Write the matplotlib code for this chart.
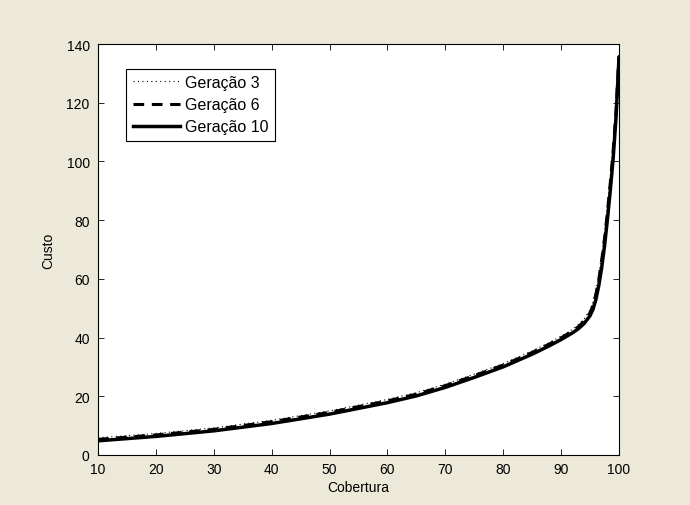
import matplotlib
matplotlib.use("Agg")
import matplotlib.pyplot as plt

# coverage values (x) and cost for each generation
cobertura = [10, 20, 30, 40, 50, 60, 65, 70, 75, 80, 85, 88, 90, 92, 93, 94, 95, 95.5, 96, 96.5, 97, 97.5, 98, 98.5, 99, 99.5, 100]
custo_g10 = [4.8, 6.3, 8.2, 10.7, 13.9, 17.8, 20.1, 23.0, 26.4, 30.0, 34.3, 37.2, 39.3, 41.6, 43.0, 44.8, 47.4, 49.5, 52.8, 57.5, 63.5, 71.0, 80.0, 90.0, 101.0, 115.0, 135.0]
custo_g6 = [5.3, 6.8, 8.7, 11.3, 14.5, 18.4, 20.7, 23.6, 27.0, 30.6, 34.9, 37.8, 39.9, 42.2, 43.7, 45.6, 48.4, 50.8, 54.5, 59.5, 66.0, 73.5, 82.5, 92.5, 103.5, 117.0, 136.0]
custo_g3 = [5.8, 7.3, 9.2, 11.8, 15.0, 18.9, 21.2, 24.1, 27.5, 31.1, 35.4, 38.3, 40.4, 42.8, 44.4, 46.4, 49.4, 52.0, 56.0, 61.0, 68.0, 75.5, 84.5, 94.5, 105.5, 119.0, 137.0]

plt.rcParams['font.family'] = ['Liberation Sans', 'DejaVu Sans']
plt.rcParams['font.size'] = 10

fig = plt.figure(figsize=(6.9, 5.06), dpi=100, facecolor='#ECE9D8')
ax = fig.add_axes([0.142, 0.099, 0.755, 0.812])

ax.plot(cobertura, custo_g3, color='black', linestyle=(0, (1, 3)), linewidth=0.8, label='Geração 3')
ax.plot(cobertura, custo_g6, color='black', linestyle=(0, (3.5, 2.5)), linewidth=2.2, label='Geração 6')
ax.plot(cobertura, custo_g10, color='black', linestyle='-', linewidth=2.5, label='Geração 10')

ax.set_xlim(10, 100)
ax.set_ylim(0, 140)
ax.set_xticks(range(10, 101, 10))
ax.set_yticks(range(0, 141, 20))
ax.tick_params(direction='in', top=True, right=True, length=4, width=0.6, colors='black', labelsize=10)
ax.tick_params(axis='x', pad=5)
ax.tick_params(axis='y', pad=6)
for s in ax.spines.values():
    s.set_linewidth(0.8)

ax.set_xlabel('Cobertura', fontsize=10, labelpad=3)
ax.set_ylabel('Custo', fontsize=10, labelpad=8)

leg = ax.legend(loc='upper left', bbox_to_anchor=(0.054, 0.94), frameon=True, fancybox=False,
                edgecolor='black', framealpha=1, fontsize=11.5, handlelength=3.0,
                borderpad=0.4, labelspacing=0.45, handletextpad=0.3, borderaxespad=0)
leg.get_frame().set_linewidth(0.8)

fig.savefig('out.png', dpi=100, facecolor=fig.get_facecolor())
